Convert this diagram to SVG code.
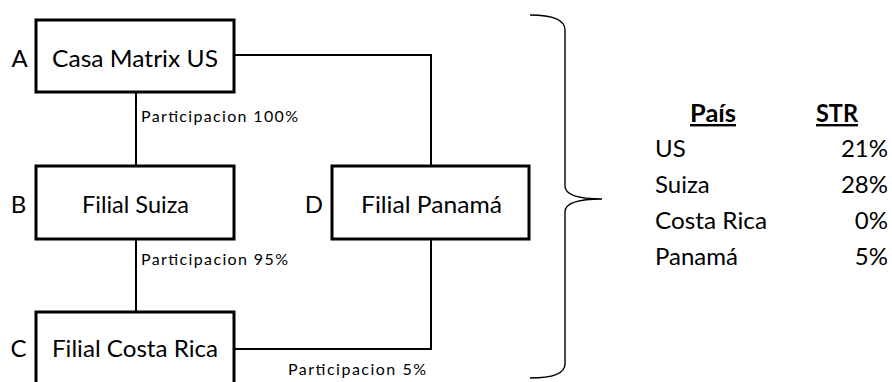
<svg xmlns="http://www.w3.org/2000/svg" width="892" height="382" viewBox="0 0 892 382">
<style>
text{font-family:Lato,"Open Sans","Noto Sans",sans-serif;fill:#000}
.box{fill:#fff;stroke:#000;stroke-width:3}
.bt{font-size:24px;text-anchor:middle}
.lt{font-size:24px;text-anchor:middle}
.pl{font-size:16px}
.conn{fill:none;stroke:#000;stroke-width:2}
.tb{font-size:24px}
.th{font-size:24px;font-weight:bold;text-decoration:underline}
.r{text-anchor:end}
</style>
<rect width="892" height="382" fill="#fff"/>
<g id="connectors">
<path class="conn" d="M234 55 H431 V166"/>
<path class="conn" d="M136 92 V166"/>
<path class="conn" d="M136 239 V312"/>
<path class="conn" d="M234 349 H431 V239"/>
<path d="M530 15 Q565 15 565 30 V186 Q565 199 602 199 Q565 199 565 212 V364 Q565 378 530 378" fill="none" stroke="#000" stroke-width="1.4"/>
</g>
<g id="nodeA"><rect class="box" x="36" y="20" width="198" height="72"/><text class="bt" x="135" y="67" textLength="166" lengthAdjust="spacingAndGlyphs">Casa Matrix US</text><text class="lt" x="19.5" y="67">A</text></g>
<g id="nodeB"><rect class="box" x="36" y="166" width="198" height="73"/><text class="bt" x="135.5" y="213" textLength="107" lengthAdjust="spacingAndGlyphs">Filial Suiza</text><text class="lt" x="18.5" y="213">B</text></g>
<g id="nodeD"><rect class="box" x="332" y="166" width="197" height="73"/><text class="bt" x="431.5" y="213" textLength="141" lengthAdjust="spacingAndGlyphs">Filial Panamá</text><text class="lt" x="314" y="213">D</text></g>
<g id="nodeC"><rect class="box" x="36" y="312" width="198" height="73"/><text class="bt" x="135" y="357" textLength="166" lengthAdjust="spacingAndGlyphs">Filial Costa Rica</text><text class="lt" x="18.5" y="357">C</text></g>
<g id="labels">
<text class="pl" x="141" y="122" textLength="157" lengthAdjust="spacing">Participacion 100%</text>
<text class="pl" x="141" y="265" textLength="147" lengthAdjust="spacing">Participacion 95%</text>
<text class="pl" x="288" y="375" textLength="138" lengthAdjust="spacing">Participacion 5%</text>
</g>
<g id="table">
<text class="th" x="690" y="122" textLength="46" lengthAdjust="spacingAndGlyphs">País</text>
<text class="th" x="816" y="122" textLength="42" lengthAdjust="spacingAndGlyphs">STR</text>
<text class="tb" x="655" y="157">US</text><text class="tb r" x="888" y="157">21%</text>
<text class="tb" x="655" y="193">Suiza</text><text class="tb r" x="888" y="193">28%</text>
<text class="tb" x="655" y="229" textLength="112" lengthAdjust="spacingAndGlyphs">Costa Rica</text><text class="tb r" x="888" y="229">0%</text>
<text class="tb" x="655" y="265">Panamá</text><text class="tb r" x="888" y="265">5%</text>
</g>
</svg>
